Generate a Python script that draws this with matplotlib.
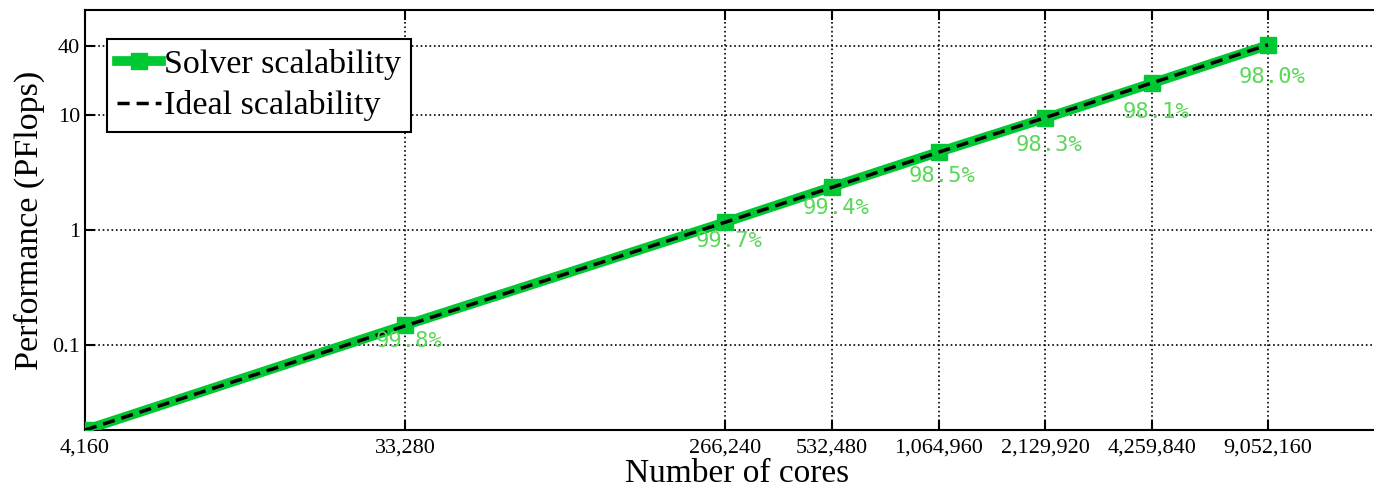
import numpy as np
import matplotlib
matplotlib.use("Agg")
import matplotlib.pyplot as plt

# data
cores = [4160, 33280, 266240, 532480, 1064960, 2129920, 4259840, 9052160]
core_labels = ["4,160", "33,280", "266,240", "532,480", "1,064,960",
               "2,129,920", "4,259,840", "9,052,160"]
solver = [0.0183, 0.149, 1.17, 2.37, 4.77, 9.4, 18.9, 40.5]
ideal = [0.0183, 0.147, 1.17, 2.35, 4.75, 9.5, 19.0, 40.8]
efficiency = ["99.8%", "99.7%", "99.4%", "98.5%", "98.3%", "98.1%", "98.0%"]
perf_ticks = [0.1, 1, 10, 40]
perf_labels = ["0.1", "1", "10", "40"]

green = "#00c832"
serif = "Liberation Serif"

W, H = 1374, 487
fig = plt.figure(figsize=(W / 100, H / 100), dpi=100)
ax = fig.add_axes([85 / W, 1 - 430 / H, (1390 - 85) / W, (430 - 10) / H])

ax.plot(cores, solver, color=green, lw=7, marker="s", ms=11,
        label="Solver scalability", zorder=3)
ax.plot(cores, ideal, color="black", lw=2.5, ls=(0, (3.5, 2)),
        label="Ideal scalability", zorder=4)

# efficiency labels under each point
for i, (x, y, txt) in enumerate(zip(cores[1:], solver[1:], efficiency)):
    ax.annotate(txt, (x, y), xytext=(4, -(16 + 2.6 * i)),
                textcoords="offset pixels", ha="center", va="center",
                family="DejaVu Sans Mono", fontsize=16, color="#5ad85a",
                zorder=5)

ax.set_xscale("log")
ax.set_yscale("log")
ax.set_xlim(4160, 2.0e7)
ax.set_ylim(0.0183, 81.8)

ax.set_xticks(cores)
ax.set_xticklabels(core_labels, family=serif, fontsize=16)
ax.set_yticks(perf_ticks)
ax.set_yticklabels(perf_labels, family=serif, fontsize=16)
ax.minorticks_off()
ax.tick_params(direction="in", length=7, width=1.5, top=True, right=True)
ax.tick_params(axis="x", pad=6)

ax.grid(True, ls=":", color="black", lw=1.2)
for s in ax.spines.values():
    s.set_linewidth(1.5)
ax.spines["right"].set_visible(False)

ax.set_xlabel("Number of cores", family=serif, fontsize=24, labelpad=0.5)
ax.set_ylabel("Performance (PFlops)", family=serif, fontsize=24.5, labelpad=5)

leg = ax.legend(loc="upper left", bbox_to_anchor=(22 / 1305, 1 - 29 / 420),
                prop={"family": serif, "size": 24.5}, fancybox=False,
                framealpha=1, edgecolor="black", handlelength=1.3,
                handletextpad=0.08, borderpad=0.3, labelspacing=0.3,
                borderaxespad=0)
leg.get_frame().set_linewidth(1.5)

fig.savefig("out.png", dpi=100)
